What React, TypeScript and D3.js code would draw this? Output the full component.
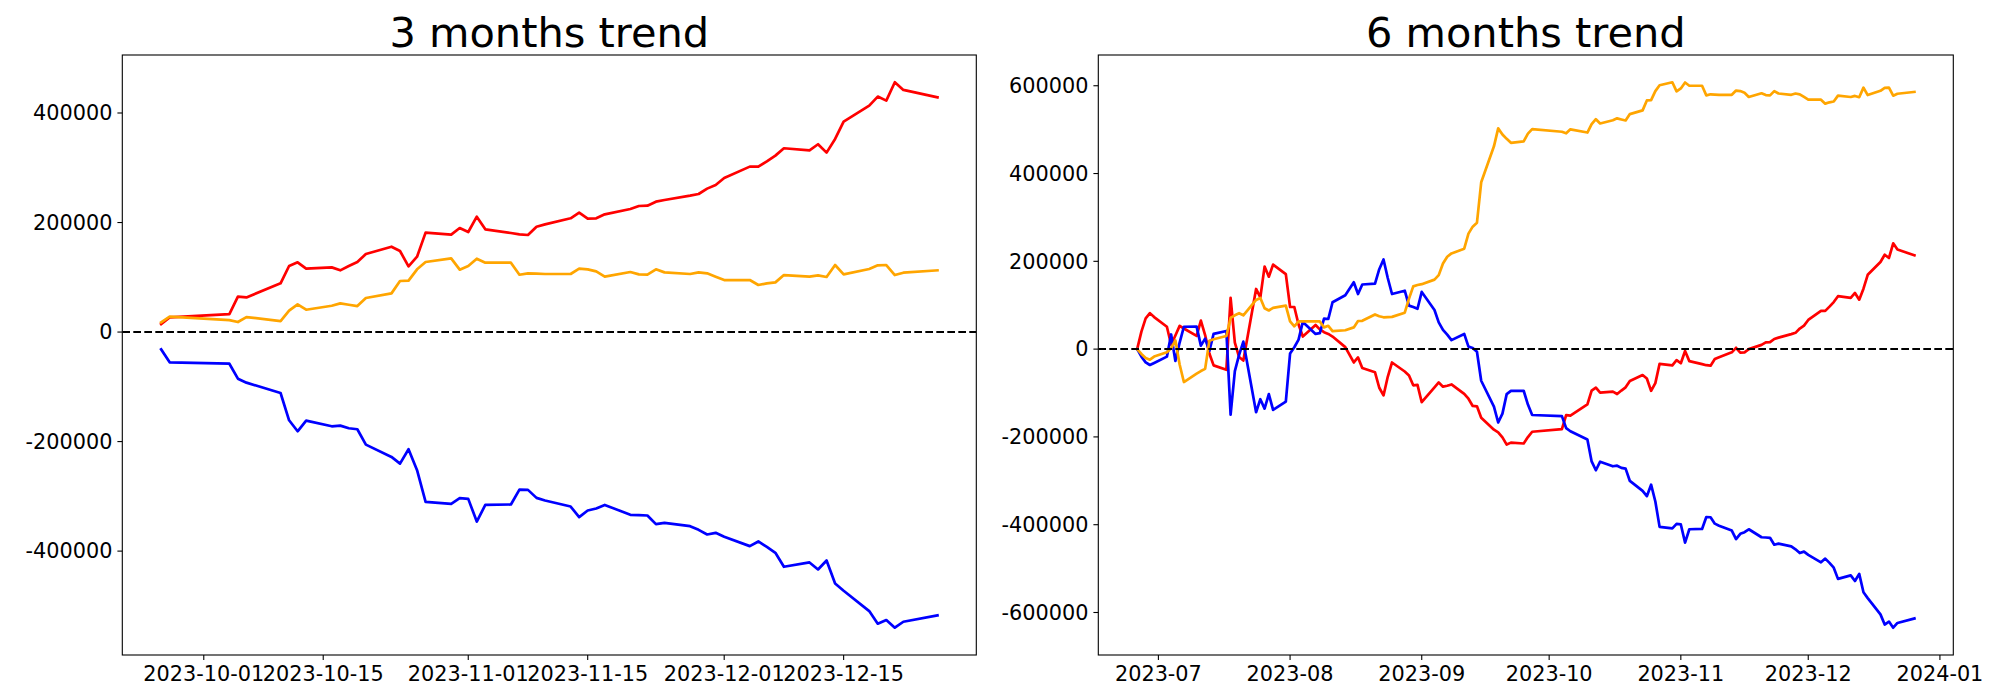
import React from 'react';
import * as d3 from 'd3';

// ---------- 3 months data ----------
const dates3m = [
  '2023-09-26', '2023-09-27',
  '2023-10-04', '2023-10-05', '2023-10-06',
  '2023-10-10', '2023-10-11', '2023-10-12', '2023-10-13',
  '2023-10-16', '2023-10-17', '2023-10-18', '2023-10-19', '2023-10-20',
  '2023-10-23', '2023-10-24', '2023-10-25', '2023-10-26', '2023-10-27',
  '2023-10-30', '2023-10-31', '2023-11-01', '2023-11-02', '2023-11-03',
  '2023-11-06', '2023-11-07', '2023-11-08', '2023-11-09', '2023-11-10',
  '2023-11-13', '2023-11-14', '2023-11-15', '2023-11-16', '2023-11-17',
  '2023-11-20', '2023-11-21', '2023-11-22', '2023-11-23', '2023-11-24',
  '2023-11-27', '2023-11-28', '2023-11-29', '2023-11-30', '2023-12-01',
  '2023-12-04', '2023-12-05', '2023-12-06', '2023-12-07', '2023-12-08',
  '2023-12-11', '2023-12-12', '2023-12-13', '2023-12-14', '2023-12-15',
  '2023-12-18', '2023-12-19', '2023-12-20', '2023-12-21', '2023-12-22',
  '2023-12-26',
];
const red3m = [
  14600, 26800,
  32900, 64600, 63300,
  88900, 120600, 127300, 115700,
  118100, 112700, 120600, 127900, 142500,
  155900, 148000, 120000, 137600, 181500,
  177800, 190000, 182700, 210700, 187600,
  180900, 178400, 177200, 192400, 196700,
  207700, 218000, 207100, 207700, 215000,
  224700, 230200, 230800, 238100, 241200,
  249100, 252100, 261900, 268600, 281400,
  302100, 302100, 311800, 322200, 335600,
  331900, 342900, 327600, 352600, 384300,
  413500, 430000, 422600, 456100, 442100,
  428700,
];
const orange3m = [
  17700, 28000,
  21900, 18300, 27400,
  20100, 39000, 50500, 40800,
  48100, 52400, 49900, 47500, 62100,
  70600, 93200, 93800, 114500, 127900,
  134600, 113900, 120600, 134000, 126700,
  126700, 104700, 107200, 106600, 106000,
  106000, 115700, 114500, 110800, 101100,
  109600, 105400, 104700, 114500, 109000,
  106000, 109000, 107200, 101100, 95000,
  95000, 85900, 88900, 90700, 104100,
  101100, 103500, 100500, 122400, 105400,
  115100, 121800, 122400, 104100, 108400,
  112700,
];
const blue3m = [
  -31600, -55300,
  -57800, -85100, -92400,
  -111300, -161100, -181200, -161700,
  -172100, -170800, -175700, -177500, -205500,
  -228000, -240200, -214000, -252300, -310100,
  -313700, -303400, -304600, -346000, -315600,
  -314900, -287600, -288200, -302800, -307600,
  -318600, -338000, -325900, -322200, -315600,
  -333800, -334400, -335000, -350800, -348400,
  -354500, -361200, -369700, -366600, -373900,
  -390900, -382400, -392200, -403100, -428600,
  -420700, -433500, -417100, -459000, -472400,
  -509500, -532600, -525900, -539900, -529000,
  -517400,
];
const xTicks3m = ['2023-10-01', '2023-10-15', '2023-11-01', '2023-11-15', '2023-12-01', '2023-12-15'];
const yTicks3m = [-400000, -200000, 0, 200000, 400000];

// ---------- 6 months data ----------
const dates6m = [
  '2023-06-26', '2023-06-27', '2023-06-28', '2023-06-29', '2023-06-30',
  '2023-07-03', '2023-07-04', '2023-07-05', '2023-07-06', '2023-07-07',
  '2023-07-10', '2023-07-11', '2023-07-12', '2023-07-13', '2023-07-14',
  '2023-07-17', '2023-07-18', '2023-07-19', '2023-07-20', '2023-07-21',
  '2023-07-24', '2023-07-25', '2023-07-26', '2023-07-27', '2023-07-28',
  '2023-07-31', '2023-08-01', '2023-08-02', '2023-08-03', '2023-08-04',
  '2023-08-07', '2023-08-08', '2023-08-09', '2023-08-10', '2023-08-11',
  '2023-08-14', '2023-08-16', '2023-08-17', '2023-08-18',
  '2023-08-21', '2023-08-22', '2023-08-23', '2023-08-24', '2023-08-25',
  '2023-08-28', '2023-08-29', '2023-08-30', '2023-08-31', '2023-09-01',
  '2023-09-04', '2023-09-05', '2023-09-06', '2023-09-07', '2023-09-08',
  '2023-09-11', '2023-09-12', '2023-09-13', '2023-09-14', '2023-09-15',
  '2023-09-18', '2023-09-19', '2023-09-20', '2023-09-21', '2023-09-22',
  '2023-09-25',
  ...dates3m,
];
const red6m = [
  0, 40000, 70000, 82000, 73000,
  51000, 10000, 31000, 53000, 47000,
  30000, 65000, 32000, -10000, -37000,
  -47000, 117000, 15000, -18000, -26000,
  137000, 118000, 188000, 165000, 192500,
  171000, 96000, 96000, 56000, 28700,
  55000, 45000, 38500, 34600, 28600,
  4500, -30400, -19000, -43000,
  -52900, -88000, -105500, -63000, -30500,
  -51000, -60000, -82500, -81500, -121000,
  -87000, -76000, -85600, -83500, -80500,
  -102000, -113000, -129500, -130300, -156500,
  -183500, -189500, -201000, -217500, -213000,
  -215000,
  -200400, -188200,
  -182100, -150400, -151700,
  -126100, -94400, -87700, -99300,
  -96900, -102300, -94400, -87100, -72500,
  -59100, -67000, -95000, -77400, -33500,
  -37200, -25000, -32300, -4300, -27400,
  -34100, -36600, -37800, -22600, -18300,
  -7300, 3000, -7900, -7300, 0,
  9700, 15200, 15800, 23100, 26200,
  34100, 37100, 46900, 53600, 66400,
  87100, 87100, 96800, 107200, 120600,
  116900, 127900, 112600, 137600, 169300,
  198500, 215000, 207600, 241100, 227100,
  213700,
];
const blue6m = [
  0, -17100, -30100, -36200, -31600,
  -17100, 33400, -27000, 15000, 51000,
  51200, 8000, 24000, -4000, 34600,
  41400, -149300, -50000, -13000, 17000,
  -143800, -114100, -135600, -102600, -138300,
  -119600, -10000, 4200, 21500, 62000,
  34600, 36300, 69500, 68600, 106800,
  122600, 152300, 125500, 147200,
  149000, 182000, 204200, 162000, 125500,
  133100, 99100, 96000, 92000, 130300,
  89000, 61000, 44000, 33000, 20500,
  34600, 5700, 2700, -6000, -72000,
  -131000, -167200, -147000, -102600, -95000,
  -94800,
  -126400, -150100,
  -152600, -179900, -187200,
  -206100, -255900, -276000, -256500,
  -266900, -265600, -270500, -272300, -300300,
  -322800, -335000, -308800, -347100, -404900,
  -408500, -398200, -399400, -440800, -410400,
  -409700, -382400, -383000, -397600, -402400,
  -413400, -432800, -420700, -417000, -410400,
  -428600, -429200, -429800, -445600, -443200,
  -449300, -456000, -464500, -461400, -468700,
  -485700, -477200, -487000, -497900, -523400,
  -515500, -528300, -511900, -553800, -567200,
  -604300, -627400, -620700, -634700, -623800,
  -613500,
];
const orange6m = [
  0, -11000, -20000, -24000, -17000,
  -7000, 2000, 20000, -35000, -75000,
  -56000, -50000, -45000, 19000, 22500,
  30000, 71000, 77000, 81800, 77000,
  112000, 116500, 93000, 88000, 94000,
  99200, 63000, 52000, 63000, 63000,
  63000, 63000, 49500, 53000, 41000,
  43000, 49500, 64000, 64500,
  79000, 75000, 72500, 73000, 73500,
  83000, 115000, 143000, 146000, 148000,
  158300, 168500, 195000, 210500, 218000,
  228800, 263000, 279000, 288000, 380000,
  462000, 502900, 489000, 479000, 470000,
  473300,
  491000, 501300,
  495200, 491600, 500700,
  493400, 512300, 523800, 514100,
  521400, 525700, 523200, 520800, 535400,
  543900, 566500, 567100, 587800, 601200,
  607900, 587200, 593900, 607300, 600000,
  600000, 578000, 580500, 579900, 579300,
  579300, 589000, 587800, 584100, 574400,
  582900, 578700, 578000, 587800, 582300,
  579300, 582300, 580500, 574400, 568300,
  568300, 559200, 562200, 564000, 577400,
  574400, 576800, 573800, 595700, 578700,
  588400, 595100, 595700, 577400, 581700,
  586000,
];
const xTicks6m = ['2023-07-01', '2023-08-01', '2023-09-01', '2023-10-01', '2023-11-01', '2023-12-01', '2024-01-01'];
const yTicks6m = [-600000, -400000, -200000, 0, 200000, 400000, 600000];

const parse = d3.utcParse('%Y-%m-%d');
const FONT = 'DejaVu Sans, sans-serif';
const TICK_FS = 20.8;

type PanelProps = {
  title: string;
  dates: string[];
  red: number[];
  blue: number[];
  orange: number[];
  left: number;
  right: number;
  xTicks: string[];
  xFmt: (d: Date) => string;
  yTicks: number[];
};

function Panel({ title, dates, red, blue, orange, left, right, xTicks, xFmt, yTicks }: PanelProps) {
  const top = 55;
  const bottom = 655;
  const ds = dates.map((s) => parse(s) as Date);
  const [d0, d1] = d3.extent(ds) as [Date, Date];
  const pad = (+d1 - +d0) * 0.05;
  const x = d3.scaleUtc().domain([new Date(+d0 - pad), new Date(+d1 + pad)]).range([left, right]);
  const all = [...red, ...blue, ...orange];
  const [v0, v1] = d3.extent(all) as [number, number];
  const vp = (v1 - v0) * 0.05;
  const y = d3.scaleLinear().domain([v0 - vp, v1 + vp]).range([bottom, top]);
  const line = d3
    .line<number>()
    .x((_, i) => x(ds[i]))
    .y((v) => y(v));
  const fmtY = (v: number) => String(v);
  const series: [number[], string][] = [
    [red, 'red'],
    [blue, 'blue'],
    [orange, 'orange'],
  ];
  return (
    <g>
      <defs>
        <clipPath id={'clip-' + Math.round(left)}>
          <rect x={left} y={top} width={right - left} height={bottom - top} />
        </clipPath>
      </defs>
      <g clipPath={`url(#clip-${Math.round(left)})`}>
        {series.map(([vals, color]) => (
          <path
            key={color}
            d={line(vals) || ''}
            fill="none"
            stroke={color}
            strokeWidth={2.7}
            strokeLinejoin="round"
            strokeLinecap="square"
          />
        ))}
        <line
          x1={left}
          x2={right}
          y1={y(0)}
          y2={y(0)}
          stroke="black"
          strokeWidth={2}
          strokeDasharray="7.7 3.3"
        />
      </g>
      <rect x={left} y={top} width={right - left} height={bottom - top} fill="none" stroke="black" strokeWidth={1.1} />
      {xTicks.map((t) => {
        const px = x(parse(t) as Date);
        return (
          <g key={t}>
            <line x1={px} x2={px} y1={bottom} y2={bottom + 4.9} stroke="black" strokeWidth={1.1} />
            <text x={px} y={bottom + 26} textAnchor="middle" fontFamily={FONT} fontSize={TICK_FS} fill="black">
              {xFmt(parse(t) as Date)}
            </text>
          </g>
        );
      })}
      {yTicks.map((t) => {
        const py = y(t);
        return (
          <g key={t}>
            <line x1={left - 4.9} x2={left} y1={py} y2={py} stroke="black" strokeWidth={1.1} />
            <text
              x={left - 9.8}
              y={py}
              dy="0.35em"
              textAnchor="end"
              fontFamily={FONT}
              fontSize={TICK_FS}
              fill="black"
            >
              {fmtY(t)}
            </text>
          </g>
        );
      })}
      <text x={(left + right) / 2} y={top - 8.5} textAnchor="middle" fontFamily={FONT} fontSize={41.5} fill="black">
        {title}
      </text>
    </g>
  );
}

export default function App() {
  return (
    <svg
      width={2000}
      height={700}
      viewBox="0 0 2000 700"
      style={{ position: 'absolute', left: 0, top: 0, background: 'white' }}
    >
      <rect x={0} y={0} width={2000} height={700} fill="white" />
      <Panel
        title="3 months trend"
        dates={dates3m}
        red={red3m}
        blue={blue3m}
        orange={orange3m}
        left={122.3}
        right={976.3}
        xTicks={xTicks3m}
        xFmt={d3.utcFormat('%Y-%m-%d')}
        yTicks={yTicks3m}
      />
      <Panel
        title="6 months trend"
        dates={dates6m}
        red={red6m}
        blue={blue6m}
        orange={orange6m}
        left={1098.3}
        right={1953.3}
        xTicks={xTicks6m}
        xFmt={d3.utcFormat('%Y-%m')}
        yTicks={yTicks6m}
      />
    </svg>
  );
}
